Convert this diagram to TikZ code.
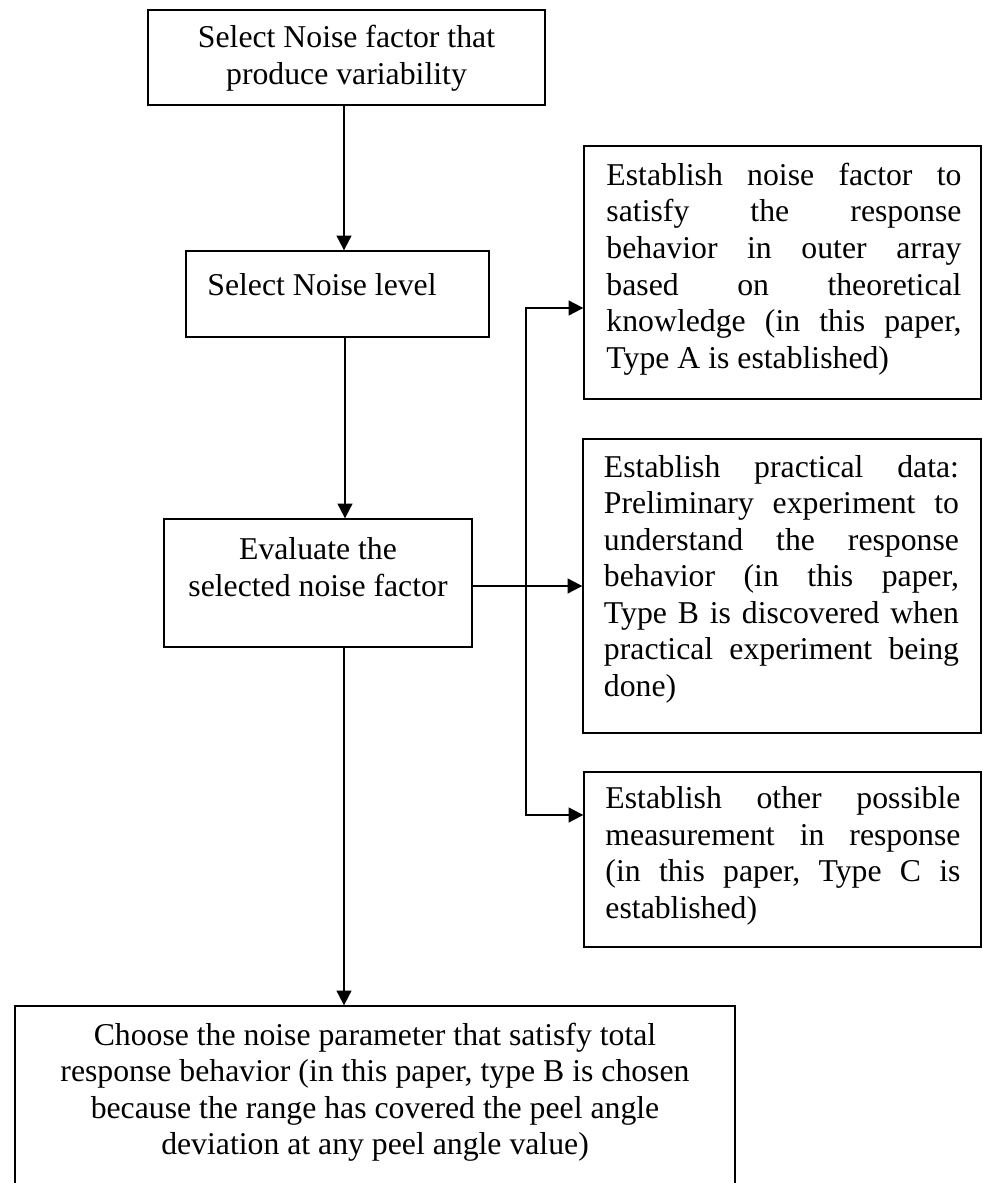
\documentclass[tikz,border=0pt]{standalone}
\usepackage{fontspec}
\setmainfont{Liberation Serif}
\usetikzlibrary{arrows.meta,fit}
\begin{document}
\begin{tikzpicture}[x=0.378pt,y=-0.378pt,
  box/.style={draw, line width=0.5pt, inner sep=0pt, rectangle},
  txt/.style={inner sep=0pt, font=\fontsize{12pt}{13.8pt}\selectfont, align=center},
  jtxt/.style={txt, text width=134.2pt, align=justify},
  link/.style={line width=0.75pt},
  flow/.style={link, -{Triangle[length=5.6pt,width=5.6pt]}}]
\useasboundingbox (0,0) rectangle (982,1183);
\clip (0,0) rectangle (982,1183);

% main column
\node[box, fit={(148,10) (545,105)}] (b1) {};
\node[txt] (t1) at (346.5,58) {Select Noise factor that\\produce variability};

\node[box, fit={(186,251) (489,337)}] (b2) {};
\node[txt] (t2) at (322,285) {Select Noise level};

\node[box, fit={(164,519) (472,647)}] (b3) {};
\node[txt] (t3) at (318,567) {Evaluate the\\selected noise factor};

% side boxes
\node[box, fit={(584,146) (981,399)}] (A) {};
\node[jtxt] (tA) at (784,269) {Establish\hfill noise\hfill factor\hfill to\\
satisfy\hfill the\hfill response\\
behavior\hfill in\hfill outer\hfill array\\
based\hfill on\hfill theoretical\\
knowledge\hfill (in\hfill this\hfill paper,\\
Type A is established)};

\node[box, fit={(583,439) (981,733)}] (B) {};
\node[jtxt] (tB) at (781.5,579) {Establish\hfill practical\hfill data:\\
Preliminary\hfill experiment\hfill to\\
understand\hfill the\hfill response\\
behavior\hfill (in\hfill this\hfill paper,\\
Type\hfill B\hfill is\hfill discovered\hfill when\\
practical\hfill experiment\hfill being\\
done)};

\node[box, fit={(584,772) (981,947)}] (C) {};
\node[jtxt] (tC) at (783,856) {Establish\hfill other\hfill possible\\
measurement\hfill in\hfill response\\
(in\hfill this\hfill paper,\hfill Type\hfill C\hfill is\\
established)};

% final box
\node[box, fit={(15,1006) (735,1200)}] (D) {};
\node[txt] (tD) at (375,1092) {Choose the noise parameter that satisfy total\\
response behavior (in this paper, type B is chosen\\
because the range has covered the peel angle\\
deviation at any peel angle value)};

% connectors
\coordinate (c1) at (344,0);
\coordinate (c2) at (345,0);
\coordinate (jt) at (526,308);
\coordinate (jb) at (526,815);
\draw[flow] (b1.south -| c1) -- (b2.north -| c1);
\draw[flow] (b2.south -| c2) -- (b3.north -| c2);
\draw[flow] (b3.south -| c1) -- (D.north -| c1);
\draw[flow] (B.west -| b3.east) -- (B.west);
\draw[flow] (jb) -- (jt) -- (jt -| A.west);
\draw[flow] (jt) -- (jb) -- (jb -| C.west);
\end{tikzpicture}
\end{document}
